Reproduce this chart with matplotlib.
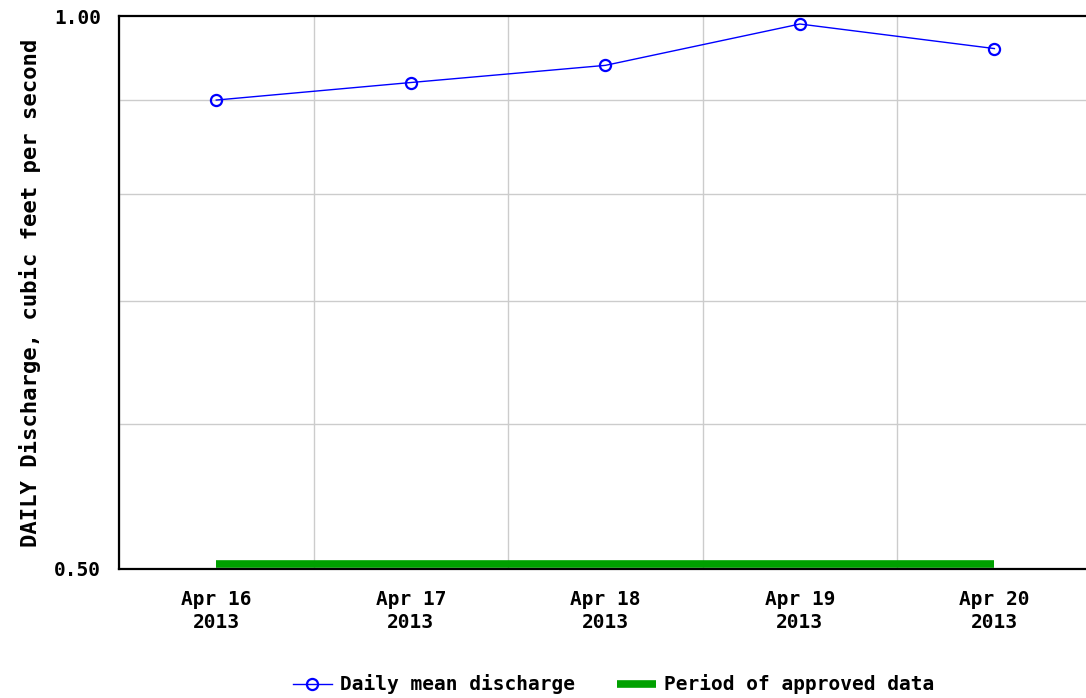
import numpy as np
import matplotlib
matplotlib.use('Agg')
import matplotlib.pyplot as plt
import matplotlib.dates as mdates
import matplotlib.ticker as mticker
from datetime import datetime, timedelta

# daily mean discharge, cfs
dates = [datetime(2013, 4, d) for d in (16, 17, 18, 19, 20)]
discharge = [0.90, 0.92, 0.94, 0.99, 0.96]

# period of approved data
approved_start = datetime(2013, 4, 16)
approved_end = datetime(2013, 4, 20)

y_major = [0.50, 1.00]
y_minor = [0.6, 0.7, 0.8, 0.9]

plt.rcParams['font.family'] = 'DejaVu Sans Mono'
plt.rcParams['font.weight'] = 'bold'
plt.rcParams['font.size'] = 14

fig = plt.figure(figsize=(10.86, 6.98), dpi=100)
ax = fig.add_axes([119 / 1086, 1 - 569 / 698, 1 - 119 / 1086, (569 - 16) / 698])

ax.set_yscale('log')
ax.set_ylim(0.5, 1.0)
ax.set_xlim(dates[0] - timedelta(hours=12), dates[-1] + timedelta(hours=11.3))

ax.plot(dates, discharge, color='#0000ff', lw=1, marker='o', ms=8,
        mfc='none', mec='#0000ff', mew=1.6, label='Daily mean discharge', zorder=3)
ax.plot([approved_start, approved_end], [0.503, 0.503], color='#00a000', lw=5.5,
        solid_capstyle='butt', label='Period of approved data', zorder=2)

ax.yaxis.set_major_locator(mticker.FixedLocator(y_major))
ax.yaxis.set_major_formatter(mticker.FormatStrFormatter('%.2f'))
ax.yaxis.set_minor_locator(mticker.FixedLocator(y_minor))
ax.yaxis.set_minor_formatter(mticker.NullFormatter())

ax.xaxis.set_major_locator(mdates.DayLocator())
ax.xaxis.set_major_formatter(mdates.DateFormatter('%b %d\n%Y'))
ax.xaxis.set_minor_locator(mdates.HourLocator(byhour=12))

ax.grid(which='minor', color='#cccccc', lw=1)
ax.tick_params(which='both', length=0)
ax.tick_params(axis='y', pad=13)
ax.tick_params(axis='x', pad=15)
for lab in ax.get_xticklabels():
    lab.set_linespacing(1.3)

for s in ('left', 'bottom', 'top'):
    ax.spines[s].set_linewidth(1.6)
    ax.spines[s].set_color('black')
ax.spines['right'].set_visible(False)

ax.set_ylabel('DAILY Discharge, cubic feet per second', fontsize=16,
              fontweight='bold', labelpad=9)

fig.legend(loc='lower center', bbox_to_anchor=(0.565, -0.02), ncol=2, frameon=False,
           handlelength=2.0, columnspacing=2.2, handletextpad=0.4)

fig.savefig('out.png', dpi=100)
